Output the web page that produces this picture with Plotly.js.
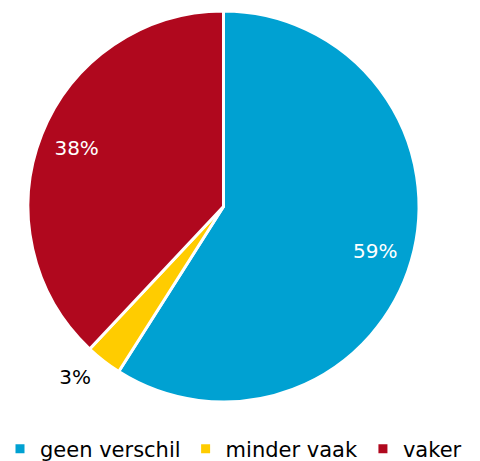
<!DOCTYPE html>
<html>
<head>
<meta charset="utf-8">
<script src="https://cdn.plot.ly/plotly-3.0.1.min.js"></script>
<style>
  html, body { margin: 0; padding: 0; background: #fff; }
  #chart { width: 480px; height: 461px; }
</style>
</head>
<body>
<div id="chart"></div>
<script>
// Antwoordcategorieën en aandelen (%)
const categories = ['geen verschil', 'minder vaak', 'vaker'];
const shares = [59, 3, 38];
const sliceColors = ['#00a1d2', '#ffcc00', '#b0081e'];
const labelColors = ['#ffffff', '#000000', '#ffffff'];
const labelPositions = ['inside', 'outside', 'inside'];

const FONT = 'DejaVu Sans, Verdana, sans-serif';

// Pie geometry (pixels): centre and radius of the visible pie
const W = 480, H = 461;
const cx = 223.5, cy = 206.5, r = 195.5;
// Labels sit on a slightly larger, invisible ring so they land in the outer part of each slice
const rLabel = 206.5;

// Visible slices, no text
const slices = {
  type: 'pie',
  labels: categories,
  values: shares,
  textinfo: 'none',
  marker: { colors: sliceColors, line: { color: '#ffffff', width: 3 } },
  sort: false,
  direction: 'clockwise',
  rotation: 0,
  hoverinfo: 'label+percent',
  domain: { x: [(cx - r) / W, (cx + r) / W], y: [1 - (cy + r) / H, 1 - (cy - r) / H] }
};

// Transparent ring carrying the percentage labels
const labelRing = {
  type: 'pie',
  labels: categories,
  values: shares,
  hole: 0.53,
  texttemplate: '%{value}%',
  textposition: labelPositions,
  insidetextorientation: 'horizontal',
  textfont: { family: FONT, size: 20, color: labelColors },
  marker: { colors: ['rgba(0,0,0,0)', 'rgba(0,0,0,0)', 'rgba(0,0,0,0)'], line: { width: 0 } },
  sort: false,
  direction: 'clockwise',
  rotation: 0,
  showlegend: false,
  hoverinfo: 'skip',
  domain: { x: [(cx - rLabel) / W, (cx + rLabel) / W], y: [1 - (cy + rLabel) / H, 1] }
};

const layout = {
  width: W,
  height: H,
  margin: { l: 0, r: 0, t: 0, b: 0, autoexpand: false },
  paper_bgcolor: '#ffffff',
  showlegend: true,
  legend: {
    orientation: 'h',
    x: 0,
    xanchor: 'left',
    y: 1 - 449 / H,
    yanchor: 'middle',
    font: { family: FONT, size: 21, color: '#000000' },
    itemwidth: 30
  }
};

Plotly.newPlot('chart', [slices, labelRing], layout, { displayModeBar: false, staticPlot: true });
</script>
</body>
</html>
